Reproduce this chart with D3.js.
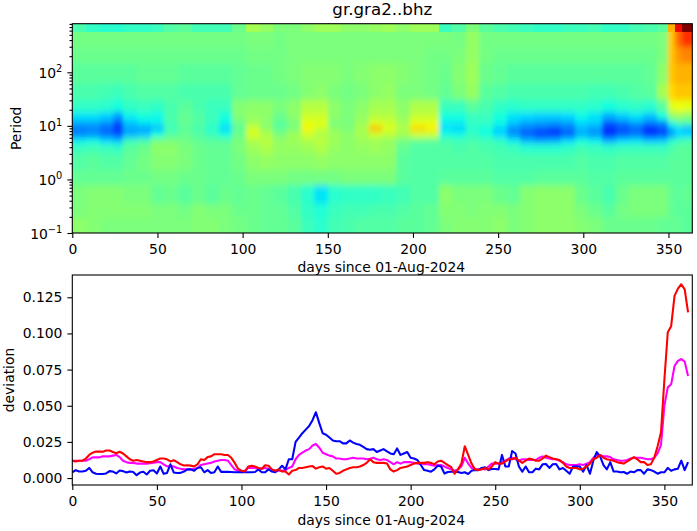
<!DOCTYPE html>
<html><head><meta charset="utf-8">
<script src="https://cdn.jsdelivr.net/npm/d3@7"></script>
<style>
html,body{margin:0;padding:0;background:#fff}
svg{display:block}
text{font-family:"DejaVu Sans",sans-serif;fill:#000}
.tick text{font-size:13.9px}
.domain,.tick line{stroke:#000;stroke-width:1.1px}
</style></head><body><svg id="c" width="697" height="531"></svg>
<script>
const title = "gr.gra2..bhz";
const xLabel = "days since 01-Aug-2024";
const heatDayEdges = [0,8,16,24,30,38,46,54,62,70,78,86,94,102,110,118,126,134,142,150,158,166,174,182,190,198,207,215,223,231,239,247,255,263,271,279,287,295,303,311,319,327,335,343,350,354,358,364];
const periodEdges = [808,570,300,150,60,30,18,13,10,8,6,4.5,3,1.5,0.8,0.35,0.2,0.1];
const heatRows = [
[44,41,40,40,41,41,42,45,46,43,43,43,48,55,53,50,50,52,54,54,52,52,53,54,52,54,54,42,45,50,46,44,43,42,41,41,42,42,43,41,41,43,44,46,72,90,100],
[49,49,49,49,49,49,49,49,49,49,49,49,49,50,50,49,50,50,50,50,50,50,50,50,50,50,50,50,49,53,49,49,49,49,49,49,49,49,49,49,49,49,49,50,70,80,86],
[48,48,48,48,48,48,48,48,48,48,48,48,48,49,49,49,50,50,50,50,50,50,50,50,50,50,49,49,50,53,49,48,48,48,48,48,48,48,48,48,48,48,48,50,70,75,77],
[46,46,46,46,46,47,47,47,46,46,46,46,47,48,48,49,50,51,51,51,50,51,52,52,51,50,49,48,51,54,48,47,46,46,46,46,46,46,46,46,46,46,47,52,70,72,72],
[44,44,43,42,44,45,45,45,44,44,44,44,47,48,48,48,49,51,52,50,49,50,52,53,50,50,49,47,50,53,46,45,44,44,44,44,44,44,43,43,44,45,46,55,68,70,70],
[41,41,40,38,41,42,41,44,46,44,42,42,51,52,52,50,52,57,57,52,50,52,55,55,52,56,56,42,42,46,44,41,40,41,41,41,41,41,40,38,40,41,40,46,62,64,63],
[35,35,33,28,36,38,37,44,47,45,42,38,51,53,52,48,52,60,60,52,50,53,57,57,53,59,59,38,38,42,42,38,35,34,33,33,34,37,35,30,33,35,32,38,52,54,52],
[29,29,27,20,32,35,36,44,47,45,42,37,48,55,52,46,50,63,62,50,50,54,62,60,55,63,63,36,36,41,41,37,32,29,28,27,28,34,33,21,24,28,24,26,38,44,44],
[24,25,22,18,28,28,30,42,46,44,40,33,47,60,52,46,50,65,60,52,50,56,72,62,56,69,66,34,33,40,38,33,26,24,22,20,24,30,27,17,20,22,16,20,30,34,30],
[26,27,24,20,30,32,38,45,47,45,42,38,48,61,56,50,54,60,56,54,52,55,60,58,55,60,60,38,37,41,38,34,27,22,19,18,22,30,28,17,22,24,18,20,28,34,34],
[36,37,34,32,42,44,50,50,49,47,46,46,50,56,57,53,54,56,58,54,52,54,54,53,49,47,46,44,43,44,43,41,36,31,29,30,34,38,36,30,34,35,32,33,40,42,44],
[42,43,42,41,46,48,52,52,50,48,47,47,50,54,56,53,53,54,56,53,52,53,54,53,47,45,45,45,44,45,44,43,42,40,40,40,41,43,42,41,42,42,42,42,44,46,46],
[45,46,45,45,47,49,51,51,50,48,47,47,49,52,53,52,52,52,53,52,52,52,52,52,46,45,45,45,45,45,45,44,44,44,44,44,44,45,44,44,45,45,45,45,46,46,46],
[47,47,47,47,48,48,49,49,48,48,47,47,48,50,50,50,49,49,49,49,50,50,50,50,46,45,45,46,46,46,46,45,45,45,46,46,46,46,45,45,46,46,46,46,46,46,46],
[50,51,51,51,50,50,47,48,46,48,46,48,47,48,47,46,44,40,35,40,41,41,41,42,43,45,45,52,50,50,50,48,47,51,52,52,52,48,46,44,48,50,50,50,47,46,47],
[50,51,51,51,51,51,50,50,49,51,50,50,48,48,47,47,45,41,39,42,43,43,44,44,45,46,47,51,51,50,51,51,50,51,52,52,52,50,48,46,49,50,50,50,47,46,46],
[52,51,50,50,50,50,50,50,50,51,51,50,49,48,47,47,46,42,40,43,44,45,45,45,46,46,47,50,51,51,51,52,50,51,52,52,52,51,50,48,48,48,48,47,47,47,46]
];
const lineStepDays = 2;
const blueDev = [4,5.5,4.5,4.5,5,7,4,3,2.8,2.8,3.2,4.8,4.5,3.2,5.2,4.8,3.8,4.6,4.2,2,3.8,4.4,2.5,5,5.4,3.2,8,3,3.5,9.5,3.8,3.5,3.6,4.5,6,6,5,7,7.5,4,5.5,3.5,4,8,4.3,4.3,4.3,4.2,4,4,4,4,4,4,4.2,6,4,4,6,4.5,4,6,8.5,6,13,13,25,28,31,33.5,36,40,45.5,38,31,30,28,26,25.5,25.5,24,24,26,24.5,23.5,23,21.5,20,19.5,20,18,19,20,18.5,17,16.5,20.5,16,17,18,14,13.5,12.5,9,5.5,5,4.4,6,8.5,8,3.2,4.2,4.4,4.4,4.2,3.5,4,2.8,5,5.5,5.5,7,7.4,5.5,6.3,6.3,6,16,8,8,18.7,17,8,4.4,8,4,4,6.5,6,9.5,9.7,7,9.5,9.7,6,7,5,3,8,8,8,4.5,9,3,12,18,15,9,6,11,4.5,4.5,4,4.2,3,4.5,4,5.5,5.5,3,6,5.5,4.5,3,4,4,7,5,6,6.5,12,5.5,11];
const magentaDev = [12,12,12,12,12,13,14.3,14.3,14.3,15,15,15,15.5,16,14.5,12,11,10.5,10.5,10,10,10,10,10.3,10.6,11,11,9.5,8,8.5,8,7,6.5,6,6,6,6.5,7,9,9.5,10,10.5,11.5,12,12.5,12.5,12,9,6,5,4,5,7,7,7,6.5,6.5,7,6.5,5.5,5,5,5,5.5,7,8,13,16,17.5,19,20,22.5,23.5,21,17.5,16.5,15.5,15,13.5,13.5,13,13,13.5,14,13.5,13.5,13.5,13,13.3,14,13,12.5,13,12.5,11,9.5,11,10,11,11,11,10.5,10,10,9.5,9.5,9,8.5,9,9,8,7,6,5,6,8,14,10,7,6,6,6.5,6,8,10,10,10,11,12,13.5,14,13,12,13,13,12.5,12.5,12.5,14,15,14,13.5,13,13,12,11,9.5,9,9,9,9.5,9,10,11,14,16,16,15,15,14.5,13,12.5,12,12,12.5,13.5,14,14,14,13.5,13,13,14,17,23,50,62.7,64.8,77.5,81,82.3,80.5,70.6];
const redDev = [12,11.5,12,12,13.5,16,17.5,18.3,18.3,18.2,19,19,18,17.2,18.2,17,15,13,12,12.5,12,11.5,11,11,11.5,12.5,13.5,13.5,13,11.5,12.3,11,9.5,8.7,8.8,8.6,8,9.5,13,12.5,14.5,15,16.5,16.5,16.5,16,16,14,10.5,6.5,5,4.5,8,8.5,8,7,6.5,8.8,8.5,6,5,6,4.5,4.5,2.5,5,5.5,7,7,7.5,8,8.3,6.5,7.5,8,6.5,7,5,3,3.5,5,6,7,7.5,7.5,8,9,10.5,13,11,10.5,10.5,10.5,10,6,4.5,5.5,7,7.5,8,9,10,10.5,10.5,10.5,11,10.5,9.5,11.5,12,10.5,9,7.5,3,6,10,22,16,10,6,5.5,6,7,6,8,11,10,10,11.5,13,13,14,12,10.5,12,13.5,13,12,12,13.5,15.5,14.5,13.5,13,12.5,10.5,8,7,7,7,6,6.5,8,10,13,14,16,14,13,12.5,12,11,10.5,10,11.5,13,14.5,13,11,11,9,9.5,14,22,31.6,68,100.8,105,126,131,134,130.5,114.6];
const xTicks = [0,50,100,150,200,250,300,350];
const devTicks = [0,0.025,0.05,0.075,0.1,0.125];
const periodMajor = [-1,0,1,2];

const L=72.3,R=692.3,T1=23.7,B1=233,T2=275,B2=485;
const svg=d3.select("#c");
const defs=svg.append("defs");
defs.append("clipPath").attr("id","c1").append("rect").attr("x",L).attr("y",T1).attr("width",R-L).attr("height",B1-T1);
defs.append("clipPath").attr("id","c2").append("rect").attr("x",L).attr("y",T2).attr("width",R-L).attr("height",B2-T2);
const blur=defs.append("filter").attr("id","soft").attr("x","-5%").attr("y","-5%").attr("width","110%").attr("height","110%");
blur.append("feGaussianBlur").attr("stdDeviation","2.2 3.2");

const x1=d3.scaleLinear().domain([0,364]).range([L,R]);
const x2=d3.scaleLinear().domain([0,366.5]).range([L,R]);
const y1=d3.scaleLog().domain([0.1,808]).range([B1,T1]);
const y2=d3.scaleLinear().domain([-0.0048,0.1404]).range([B2,T2]);

const chan=(d,r)=>d3.scaleLinear().domain(d).range(r).clamp(true);
const jr=chan([0,.35,.66,.89,1],[0,0,1,1,.5]),jg=chan([0,.125,.375,.64,.91,1],[0,0,1,1,0,0]),jb=chan([0,.11,.34,.65,1],[.5,1,1,0,0]);
const jet=v=>d3.rgb(jr(v)*255,jg(v)*255,jb(v)*255).formatHex();

const clipped=svg.append("g").attr("clip-path","url(#c1)");
const soft=clipped.append("g").attr("filter","url(#soft)");
const sharp=clipped.append("g");
heatRows.forEach((row,i)=>{
  const g=i===0?sharp:soft;
  row.forEach((v,j)=>{
    const x0=x1(heatDayEdges[j]),x9=x1(heatDayEdges[j+1]);
    const pad=10;
    const left=j===0?x0-pad:x0,right=j===row.length-1?x9+pad:x9;
    const top=i===1?y1(periodEdges[1])-pad:y1(periodEdges[i]);
    const bot=i===heatRows.length-1?B1+pad:y1(periodEdges[i+1]);
    g.append("rect").attr("x",left).attr("y",top).attr("width",right-left+0.5).attr("height",bot-top+0.5)
      .attr("fill",jet(v/100)).attr("shape-rendering","crispEdges");
  });
});
sharp.raise();

function frame(t,b){svg.append("rect").attr("x",L).attr("y",t).attr("width",R-L).attr("height",b-t).attr("fill","none").attr("stroke","#000").attr("stroke-width",1.1);}

const line=d3.line().x((d,i)=>x2(i*lineStepDays)).y(d=>y2(d/1000));
const lg=svg.append("g").attr("clip-path","url(#c2)");
[[magentaDev,"#ff00ff"],[blueDev,"#0000ff"],[redDev,"#ff0000"]].forEach(([s,c])=>{
  lg.append("path").attr("d",line(s)).attr("fill","none").attr("stroke",c).attr("stroke-width",2.08).attr("stroke-linejoin","round");
});
frame(T1,B1);frame(T2,B2);

function axX(scale,y){
  const g=svg.append("g").attr("transform",`translate(0,${y})`).call(d3.axisBottom(scale).tickValues(xTicks).tickFormat(d3.format("d")).tickSize(4.9).tickPadding(6.2));
  g.select(".domain").remove();
}
axX(x1,B1);axX(x2,B2);

const gy2=svg.append("g").attr("transform",`translate(${L},0)`).call(d3.axisLeft(y2).tickValues(devTicks).tickFormat(d3.format(".3f")).tickSize(4.9).tickPadding(5));
gy2.select(".domain").remove();

const minor=[];
for(let e=-1;e<=2;e++)for(let m=2;m<=9;m++){const v=m*Math.pow(10,e);if(v<=808)minor.push(v);}
const gym=svg.append("g").attr("transform",`translate(${L},0)`).call(d3.axisLeft(y1).tickValues(minor).tickFormat("").tickSize(2.8));
gym.select(".domain").remove();
const gy1=svg.append("g").attr("transform",`translate(${L},0)`).call(d3.axisLeft(y1).tickValues(periodMajor.map(e=>Math.pow(10,e))).tickFormat("").tickSize(4.9));
gy1.select(".domain").remove();
periodMajor.forEach(e=>{
  const t=svg.append("text").attr("x",L-10).attr("y",y1(Math.pow(10,e))+5.5).attr("text-anchor","end").attr("font-size",13.9);
  t.append("tspan").text("10");
  t.append("tspan").attr("font-size",9.8).attr("dy",-5.5).text(e<0?"\u2212"+(-e):String(e));
});

svg.append("text").attr("x",(L+R)/2).attr("y",15).attr("text-anchor","middle").attr("font-size",16.67).text(title);
svg.append("text").attr("x",(L+R)/2-1).attr("y",272).attr("text-anchor","middle").attr("font-size",13.9).text(xLabel);
svg.append("text").attr("x",(L+R)/2-1).attr("y",525).attr("text-anchor","middle").attr("font-size",13.9).text(xLabel);
svg.append("text").attr("transform",`translate(21,${(T1+B1)/2}) rotate(-90)`).attr("text-anchor","middle").attr("font-size",13.9).text("Period");
svg.append("text").attr("transform",`translate(14,${(T2+B2)/2}) rotate(-90)`).attr("text-anchor","middle").attr("font-size",13.9).text("deviation");
</script></body></html>
